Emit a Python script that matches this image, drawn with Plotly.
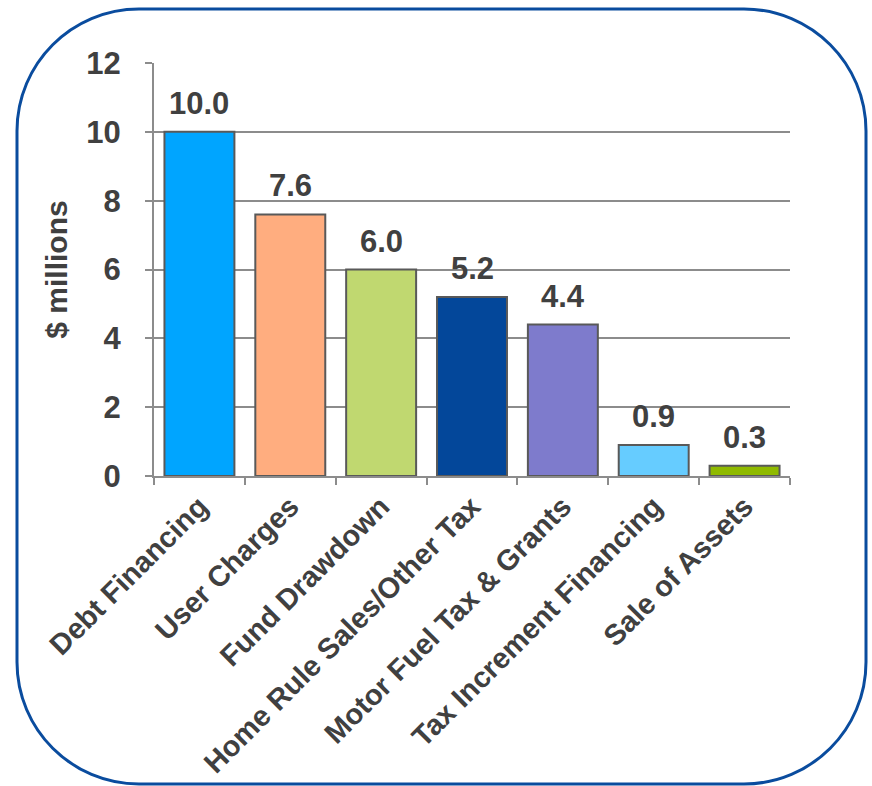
import plotly.graph_objects as go

# Capital funding sources, $ millions
categories = [
    "Debt Financing",
    "User Charges",
    "Fund Drawdown",
    "Home Rule Sales/Other Tax",
    "Motor Fuel Tax & Grants",
    "Tax Increment Financing",
    "Sale of Assets",
]
values = [10.0, 7.6, 6.0, 5.2, 4.4, 0.9, 0.3]
bar_colors = ["#00a5ff", "#ffad7f", "#c0d870", "#03479a", "#7e7bcc", "#66ccff", "#8fba00"]
y_ticks = [0, 2, 4, 6, 8, 10, 12]

W, H = 872, 786
L, R, T, B = 154, 82, 63, 310
PW, PH = W - L - R, H - T - B

TEXT = "#404040"
GRID = "#8c8c8c"
FONT = "Liberation Sans, Arial, sans-serif"

fig = go.Figure(
    go.Bar(
        x=categories,
        y=values,
        marker=dict(color=bar_colors, line=dict(color="#595959", width=2)),
        width=0.77,
        hoverinfo="skip",
    )
)

# value labels above each bar
for c, v in zip(categories, values):
    fig.add_annotation(
        x=c, y=v, text=f"<b>{v:.1f}</b>", showarrow=False,
        yanchor="bottom", yshift=9,
        font=dict(family=FONT, size=31, color=TEXT),
    )


# rounded frame around the whole chart (pixel -> paper conversion)
def px(x):
    return (x - L) / PW


def py(y):
    return (H - B - y) / PH


x0, y0, x1, y1, r = 17, 9, 866, 784, 122
k = 0.5523 * r
pts = [
    ("M", [(x0 + r, y0)]),
    ("L", [(x1 - r, y0)]),
    ("C", [(x1 - r + k, y0), (x1, y0 + r - k), (x1, y0 + r)]),
    ("L", [(x1, y1 - r)]),
    ("C", [(x1, y1 - r + k), (x1 - r + k, y1), (x1 - r, y1)]),
    ("L", [(x0 + r, y1)]),
    ("C", [(x0 + r - k, y1), (x0, y1 - r + k), (x0, y1 - r)]),
    ("L", [(x0, y0 + r)]),
    ("C", [(x0, y0 + r - k), (x0 + r - k, y0), (x0 + r, y0)]),
]
path = ""
for cmd, coords in pts:
    path += cmd + " ".join(f"{px(a):.5f},{py(b):.5f}" for a, b in coords) + " "
path += "Z"

fig.add_shape(
    type="path", path=path, xref="paper", yref="paper",
    line=dict(color="#0a4c9e", width=3), fillcolor="rgba(0,0,0,0)", layer="below",
)

fig.update_layout(
    width=W, height=H,
    margin=dict(l=L, r=R, t=T, b=B, autoexpand=False),
    paper_bgcolor="white", plot_bgcolor="white",
    showlegend=False,
    font=dict(family=FONT, color=TEXT),
)

fig.update_xaxes(
    type="category",
    tickangle=-45,
    tickfont=dict(family=FONT, size=29, color=TEXT, weight="bold"),
    tickson="boundaries",
    ticks="outside", ticklen=7, tickcolor=GRID, tickwidth=2,
    showline=True, linecolor=GRID, linewidth=2,
    showgrid=False,
    automargin=False,
)

fig.update_yaxes(
    range=[0, 12],
    tickvals=y_ticks,
    tickfont=dict(family=FONT, size=31, color=TEXT, weight="bold"),
    ticks="outside", ticklen=7, tickcolor=GRID, tickwidth=2,
    ticklabelstandoff=18,
    showline=True, linecolor=GRID, linewidth=2,
    showgrid=True, gridcolor=GRID, gridwidth=2,
    zeroline=False,
    title=dict(text="<b>$ millions</b>", font=dict(family=FONT, size=30, color=TEXT), standoff=10),
    automargin=False,
)

fig.write_html("out.html")
